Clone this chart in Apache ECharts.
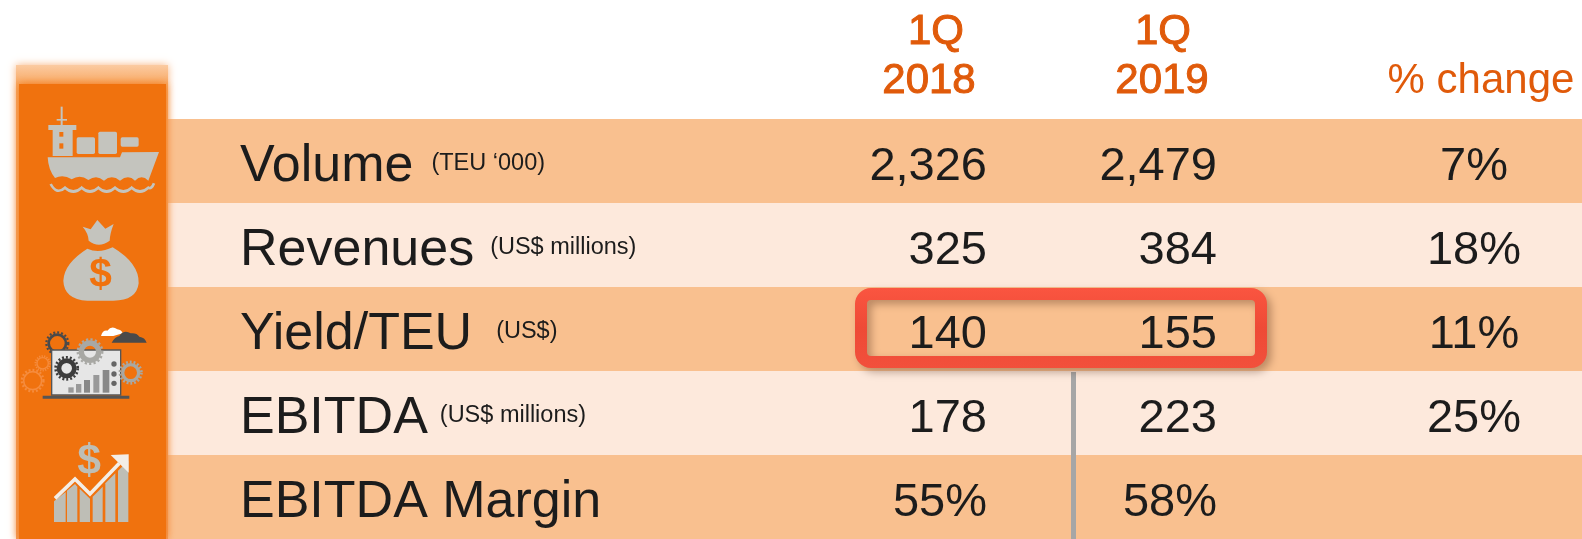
<!DOCTYPE html>
<html><head><meta charset="utf-8">
<style>html,body{margin:0;padding:0;background:#fff}#c{width:1582px;height:539px}</style>
<script src="https://cdn.jsdelivr.net/npm/echarts@6/dist/echarts.min.js"></script>
</head><body><div id="c"></div>
<script>
const metrics = ['Volume','Revenues','Yield/TEU','EBITDA','EBITDA Margin'];
const units = ['(TEU ‘000)','(US$ millions)','(US$)','(US$ millions)',''];
const q1y2018 = ['2,326','325','140','178','55%'];
const q1y2019 = ['2,479','384','155','223','58%'];
const pctChange = ['7%','18%','11%','25%',''];
const headQuarter = '1Q';
const head2018 = '2018';
const head2019 = '2019';
const headChange = '% change';

const unitGap = [18,16,24,12,0];
const FONT = '"Liberation Sans", Arial, sans-serif';
const INK = '#1c1c1c', HEAD = '#E05A0A', DARK_BAND = '#F9C08F', LIGHT_BAND = '#FDE9DC';
const ICON = '#C4C4BE', STRIP = '#F0720E';

const chart = echarts.init(document.getElementById('c'), null, {renderer:'canvas'});

function t(text, x, y, size, color, align, weight, extra){
  return Object.assign({type:'text', x, y, style:{text, fontFamily:FONT, fontSize:size, fontWeight:weight||'normal', fill:color, align:align||'center', verticalAlign:'middle'}}, extra||{});
}
function th(text, x, y){
  const e = t(text,x,y,42,HEAD,'center','normal',{z:7});
  e.style.stroke = HEAD; e.style.lineWidth = 1;
  return e;
}
function r(x,y,w,h,fill,extra){ return Object.assign({type:'rect', shape:{x,y,width:w,height:h}, style:{fill}}, extra||{}); }
function p(d,fill,extra){ return Object.assign({type:'path', shape:{pathData:d}, style:{fill}}, extra||{}); }
function gear(cx,cy,rad,color,w,tooth){
  const per = 2*Math.PI*(rad+w*0.5)/16;
  return [
    {type:'circle', shape:{cx,cy,r:rad}, style:{fill:'none', stroke:color, lineWidth:w}},
    {type:'circle', shape:{cx,cy,r:rad+w*0.5+tooth*0.4}, style:{fill:'none', stroke:color, lineWidth:tooth, lineDash:[per*0.5,per*0.5]}}
  ];
}

const iconEls = [
  // ship
  r(182,170,6,60,ICON), r(170,207,31,5,ICON), r(145,225,84,15,ICON), r(158,240,60,78,ICON),
  r(178,246,12,14,STRIP), r(178,280,12,16,STRIP),
  r(230,262,55,50,ICON,{shape:{x:230,y:262,width:55,height:50,r:5}}),
  r(295,245,56,67,ICON,{shape:{x:295,y:245,width:56,height:67,r:5}}),
  r(362,262,54,28,ICON,{shape:{x:362,y:262,width:54,height:28,r:5}}),
  p('M143 322 L360 322 L366 307 L477 306 L445 392 Q425 372 405 392 Q385 372 360 392 Q335 372 312 392 Q290 372 265 390 Q240 372 215 388 Q190 372 165 384 Q145 360 143 322 Z',ICON),
  p('M152 402 Q170 436 195 413 Q220 436 245 413 Q270 436 295 413 Q320 436 345 413 Q370 436 395 413 Q420 436 445 413 Q455 418 462 400',null,{style:{fill:'none',stroke:ICON,lineWidth:8}}),
  // money bag
  p('M248 530 L272 538 L292 510 L316 536 L341 522 Q330 550 329 572 Q296 596 266 572 Q265 550 248 530 Z',ICON),
  p('M262 596 Q296 612 338 592 Q418 640 416 700 Q410 752 340 752 L262 752 Q192 748 190 692 Q192 640 262 596 Z',ICON),
  t('$',302,678,122,STRIP,'center','bold'),
  // gears behind laptop
  ...gear(98,992,27,'#F58C3E',5,7), ...gear(128,940,17,'#F58C3E',4,6),
  ...gear(172,880,26,'#4a4a4a',8,7),
  // laptop
  r(155,900,207,135,'#E6E6E6',{style:{fill:'#E6E6E6',stroke:'#555',lineWidth:4}}),
  r(128,1037,260,9,'#555'),
  ...gear(270,905,26,'#A8A8A4',16,7),
  ...gear(200,955,23,'#3c3c3c',14,8),
  ...gear(392,968,24,'#A8A8A4',10,8),
  r(205,1012,16,16,'#999'), r(228,1002,16,26,'#999'), r(252,990,18,38,'#888'), r(280,975,18,53,'#999'), r(308,960,20,68,'#888'),
  {type:'circle',shape:{cx:342,cy:942,r:8},style:{fill:'#666'}},
  {type:'circle',shape:{cx:342,cy:972,r:8},style:{fill:'#666'}},
  {type:'circle',shape:{cx:342,cy:1000,r:8},style:{fill:'#666'}},
  // clouds
  p('M303 858 Q308 840 322 842 Q335 825 352 838 Q365 840 368 850 L340 858 Z','#FFFFFF'),
  p('M335 878 Q345 860 358 858 Q372 838 392 850 Q410 848 418 860 Q435 862 440 878 Z','#4a4a4a'),
  // growth chart
  t('$',267,1236,128,'#BEBEB6','center','bold'),
  p('M162 1354 L197 1326 L197 1416 L162 1416 Z','#BEBEB6'),
  p('M201 1322 L225 1302 L232 1310 L232 1416 L201 1416 Z','#BEBEB6'),
  p('M239 1316 L270 1346 L270 1416 L239 1416 Z','#BEBEB6'),
  p('M278 1340 L308 1310 L308 1416 L278 1416 Z','#BEBEB6'),
  p('M316 1300 L346 1270 L346 1416 L316 1416 Z','#BEBEB6'),
  p('M354 1262 L385 1232 L385 1416 L354 1416 Z','#BEBEB6'),
  p('M165 1345 L225 1287 L270 1332 L358 1240',null,{style:{fill:'none',stroke:'#F3EDE6',lineWidth:11}}),
  p('M332 1215 L386 1213 L386 1268 Z','#F3EDE6')
];

const graphicEls = [
  // column headers
  th(headQuarter,936,32),
  th(head2018,929,81),
  th(headQuarter,1163,32),
  th(head2019,1162,81),
  t(headChange,1481,81,42,HEAD,'center','normal',{z:7}),
  // divider
  r(1071,372,5,167,'#A6A6A6',{z:4}),
  // highlight box
  {type:'rect', z:8, shape:{x:861,y:294,width:400,height:68,r:10},
   style:{fill:'none', lineWidth:12, stroke:{type:'linear',x:0,y:0,x2:0,y2:1,colorStops:[{offset:0,color:'#FA5540'},{offset:0.5,color:'#EE4A36'},{offset:1,color:'#F2503C'}]},
          shadowBlur:9, shadowOffsetX:4, shadowOffsetY:4, shadowColor:'rgba(90,50,30,0.4)'}}
];

function decorItem(){
  return {type:'group', children:[
    r(16,65,152,474,'#F8AE72',{style:{fill:{type:'linear',x:0,y:0,x2:0,y2:1,colorStops:[{offset:0,color:'#FBCBA2'},{offset:0.04,color:'#F8A862'},{offset:1,color:'#F39A55'}]},shadowBlur:8,shadowColor:'rgba(248,170,110,0.9)'}}),
    r(19,84,147,455,STRIP,{style:{fill:STRIP,shadowBlur:8,shadowColor:'rgba(240,114,14,0.85)'}}),
    {type:'group', x:0, y:50, scaleX:1/3, scaleY:1/3, children:iconEls}
  ]};
}
function bandItem(params, api){
  const row = api.value(0);
  const s = api.coord([167,row]);
  const e = api.coord([1582,row]);
  const h = api.size([0,1])[1];
  return {type:'rect', shape:{x:s[0], y:s[1]-h/2, width:e[0]-s[0], height:h}, style:{fill: row%2===0 ? DARK_BAND : LIGHT_BAND}};
}
function labelItem(params, api){
  const i = params.dataIndex;
  const c = api.coord([240,i]);
  return {type:'text', x:c[0], y:c[1]+6, style:{
    text:'{m|'+metrics[i]+'}'+(units[i] ? '{g| }{u|'+units[i]+'}' : ''),
    rich:{m:{fontFamily:FONT,fontSize:52,fill:INK},g:{fontFamily:FONT,fontSize:22,width:unitGap[i]},u:{fontFamily:FONT,fontSize:23.5,fill:INK,padding:[0,0,6,0]}},
    align:'left', verticalAlign:'middle'}};
}
function valueItem(arr, xPos, align){
  return function(params, api){
    const i = params.dataIndex;
    const c = api.coord([xPos,i]);
    return {type:'text', x:c[0], y:c[1]+6, style:{text:arr[i], fontFamily:FONT, fontSize:47, fill:INK, align, verticalAlign:'middle'}};
  };
}
const rowIdx = metrics.map((_,i)=>[i]);
function cust(fn,z,data){ return {type:'custom', coordinateSystem:'cartesian2d', renderItem:fn, data:data||rowIdx, encode:{y:0}, silent:true, clip:false, z:z, animation:false}; }

chart.setOption({
  animation:false,
  backgroundColor:'#ffffff',
  grid:{left:0,right:0,top:119,bottom:0},
  xAxis:{type:'value',min:0,max:1582,show:false},
  yAxis:{type:'category',data:metrics,inverse:true,show:false},
  series:[
    cust(bandItem,1),
    cust(labelItem,2),
    cust(valueItem(q1y2018,987,'right'),2),
    cust(valueItem(q1y2019,1217,'right'),2),
    cust(valueItem(pctChange,1474,'center'),2),
    cust(decorItem,3,[[0]])
  ],
  graphic:{elements:graphicEls}
});
</script></body></html>
